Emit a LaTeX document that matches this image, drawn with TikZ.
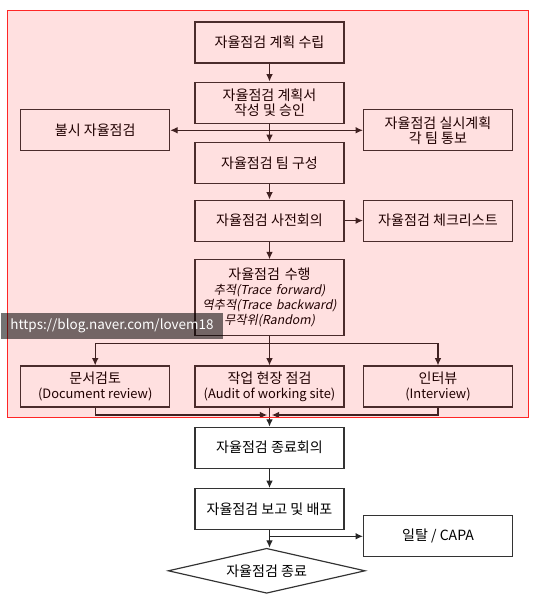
\documentclass[tikz,border=0pt]{standalone}
\usepackage{fontspec}
\setmainfont{Noto Sans CJK KR}
\newfontfamily\slanted[FakeSlant=0.2]{Noto Sans CJK KR}
\usetikzlibrary{shapes.geometric,arrows.meta}

\begin{document}
\begin{tikzpicture}[>={Latex[length=2.2mm,width=2mm]},
  box/.style={draw=black!80, line width=1pt, minimum width=4.47cm, minimum height=1.23cm,
    inner sep=2pt, align=center, font=\fontsize{12}{12.8}\selectfont},
  link/.style={->, line width=1pt, black!85}]
  % Canvas
  \fill[white] (0,0) rectangle (16.02,18.24);
  \useasboundingbox (0,0) rectangle (16.02,18.24);

  % Main column
  \node[box] (plan) at (8.085,16.965) {자율점검 계획 수립};
  \node[box] (approve) at (8.085,15.162) {자율점검 계획서\\작성 및 승인};
  \node[box] (team) at (8.085,13.347) {자율점검 팀 구성};
  \node[box] (premeet) at (8.085,11.622) {자율점검 사전회의};
  \node[box, minimum height=2.28cm, text width=4.3cm] (perform) at (8.085,9.306)
    {자율점검 수행\\{\slanted\fontsize{10.5}{12.8}\selectfont 추적(Trace forward)}\\
     {\slanted\fontsize{10.5}{12.8}\selectfont 역추적(Trace backward)}\\
     {\slanted\fontsize{10.5}{12.8}\selectfont 무작위(Random)}};

  % Side boxes
  \node[box] (surprise) at (2.856,14.331) {불시 자율점검};
  \node[box] (notify) at (13.14,14.331) {자율점검 실시계획\\각 팀 통보};
  \node[box] (checklist) at (13.14,11.622) {자율점검 체크리스트};

  % Audit methods
  \node[box] (docrev) at (2.856,6.645) {문서검토\\{\fontsize{11}{12.8}\selectfont (Document review)}};
  \node[box] (site) at (8.085,6.645) {작업 현장 점검\\{\fontsize{11}{12.8}\selectfont (Audit of working site)}};
  \node[box] (interview) at (13.14,6.645) {인터뷰\\{\fontsize{11}{12.8}\selectfont (Interview)}};

  % Closing
  \node[box] (closing) at (8.085,4.809) {자율점검 종료회의};
  \node[box] (report) at (8.085,2.97) {자율점검 보고 및 배포};
  \node[box] (capa) at (13.14,2.151) {일탈 / CAPA};
  \node[box, diamond, aspect=4.38, minimum width=5.91cm, minimum height=1.35cm, inner sep=0pt,
    fill=white] (finish) at (8.0,1.116) {자율점검 종료};

  % Connectors
  \draw[link] (plan) -- (approve);
  \draw[link] (approve) -- (team);
  \draw[link, <->] (surprise) -- (notify);
  \draw[link] (team) -- (premeet);
  \draw[link] (premeet) -- (checklist);
  \draw[link] (premeet) -- (perform);
  \draw[link] (perform) -- (site);
  \draw[link] (perform.south) -- ++(0,-0.225) -| (docrev);
  \draw[link] (perform.south) -- ++(0,-0.225) -| (interview);
  \coordinate (merge) at (8.085,5.79);
  \draw[link, shorten >=2pt] (docrev.south) |- (merge);
  \draw[link, shorten >=2pt] (interview.south) |- (merge);
  \draw[link] (site) -- (closing);
  \draw[link] (closing) -- (report);
  \draw[link] (report) -- (report.south |- finish.north);
  \draw[link] (report.south) |- (capa.west);

  % Audit scope
  \draw[red!85, line width=0.8pt, fill=red, fill opacity=0.12] (0.21,5.73) rectangle (15.84,17.94);

  % Watermark
  \node[fill=black, fill opacity=0.55, text opacity=1, text=white, minimum width=6.66cm,
    minimum height=0.78cm, inner sep=0pt, font=\fontsize{11.5}{11.5}\selectfont] (mark) at (3.36,8.469)
    {https://blog.naver.com/lovem18};
\end{tikzpicture}
\end{document}
